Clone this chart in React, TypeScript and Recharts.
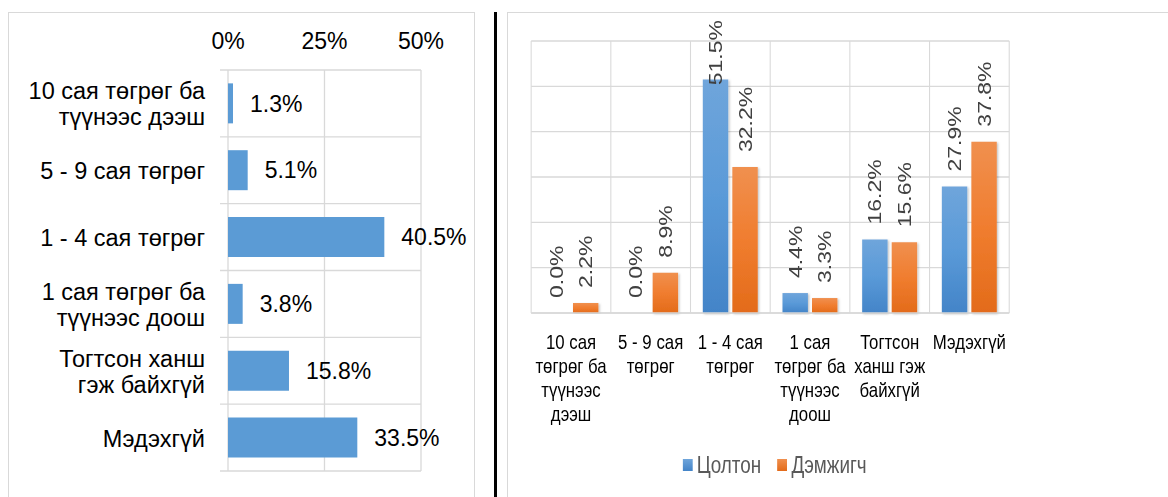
import React from 'react';
import { BarChart, Bar, XAxis, YAxis, CartesianGrid, LabelList, Legend } from 'recharts';

// ---------- data ----------
const leftCategories = [
  '10 сая төгрөг ба\nтүүнээс дээш',
  '5 - 9 сая төгрөг',
  '1 - 4 сая төгрөг',
  '1 сая төгрөг ба\nтүүнээс доош',
  'Тогтсон ханш\nгэж байхгүй',
  'Мэдэхгүй',
];
const leftValues = [1.3, 5.1, 40.5, 3.8, 15.8, 33.5];
const leftTicks = [0, 25, 50];

const rightCategories = [
  '10 сая\nтөгрөг ба\nтүүнээс\nдээш',
  '5 - 9 сая\nтөгрөг',
  '1 - 4 сая\nтөгрөг',
  '1 сая\nтөгрөг ба\nтүүнээс\nдоош',
  'Тогтсон\nханш гэж\nбайхгүй',
  'Мэдэхгүй',
];
const seriesNames = ['Цолтон', 'Дэмжигч'];
const tsoltonValues = [0.0, 0.0, 51.5, 4.4, 16.2, 27.9];
const demjigchValues = [2.2, 8.9, 32.2, 3.3, 15.6, 37.8];
const rightTicks = [0, 10, 20, 30, 40, 50, 60];

const leftData = leftCategories.map((name, i) => ({ name, value: leftValues[i] }));
const rightData = rightCategories.map((name, i) => ({
  name,
  tsolton: tsoltonValues[i],
  demjigch: demjigchValues[i],
}));

// ---------- styles ----------
const FONT = '"Liberation Sans", Arial, sans-serif';
const GRID = '#d9d9d9';
const SQUASH = 0.82;

const fmt = (v: any) => Number(v).toFixed(1) + '%';

const charW = (c: string) => {
  if (c === '.') return 0.278;
  if (c === '%') return 0.889;
  return 0.556;
};
const textLen = (s: string, fs: number) => s.split('').reduce((a, c) => a + charW(c), 0) * fs;

// ---------- left chart ticks ----------
const LeftTopTick = (props: any) => {
  const { x, y, payload } = props;
  return (
    <text x={x} y={y - 21} textAnchor="middle" fontSize={23} fill="#000" fontFamily={FONT}>
      {payload.value + '%'}
    </text>
  );
};

const LeftCatTick = (props: any) => {
  const { x, y, payload } = props;
  const lines = String(payload.value).split('\n');
  const n = lines.length;
  return (
    <text textAnchor="end" fontSize={23.5} fill="#000" fontFamily={FONT}>
      {lines.map((l, i) => (
        <tspan key={i} x={x - 23} y={y + 1 + (i - (n - 1) / 2) * 26 + 8}>
          {l}
        </tspan>
      ))}
    </text>
  );
};

// ---------- right chart ----------
const RightCatTick = (props: any) => {
  const { x, y, payload } = props;
  const lines = String(payload.value).split('\n');
  return (
    <text textAnchor="middle" fontSize={20.5} fill="#000" fontFamily={FONT}>
      {lines.map((l, i) => (
        <tspan key={i} x={x} y={y + 29 + i * 24 + 7}>
          {l}
        </tspan>
      ))}
    </text>
  );
};

const RotLabel = (props: any) => {
  const { x, y, width, value } = props;
  const txt = fmt(value);
  const cx = Number(x) + Number(width) / 2;
  const len = textLen(txt, 23);
  const sy = Math.max(Number(y) - 15, 20 + len);
  return (
    <text
      transform={`translate(${cx},${sy}) rotate(-90)`}
      fontSize={23}
      fill="#404040"
      fontFamily={FONT}
      dy={8}
    >
      {txt}
    </text>
  );
};

const legendColors = [
  'linear-gradient(#6FA5DB, #4384C8)',
  'linear-gradient(#F0904F, #E36B1A)',
];

const RightLegend = () => (
  <div
    style={{
      display: 'flex',
      justifyContent: 'center',
      alignItems: 'center',
      height: 24,
      paddingLeft: 11,
      fontFamily: FONT,
      fontSize: 23,
      color: '#595959',
      lineHeight: '24px',
    }}
  >
    {seriesNames.map((s, i) => (
      <div key={s} style={{ display: 'flex', alignItems: 'center', marginLeft: i ? 20 : 0 }}>
        <div style={{ width: 12, height: 12, background: legendColors[i], marginRight: 5 }} />
        <span>{s}</span>
      </div>
    ))}
  </div>
);

const zeroMin = (v: any) => (Number(v) === 0 ? 0.01 : 0);

export default function App() {
  const nL = leftCategories.length;
  const nR = rightCategories.length;
  return (
    <div
      style={{
        position: 'absolute',
        left: 0,
        top: 0,
        width: 1168,
        height: 497,
        background: '#fff',
        overflow: 'hidden',
        fontFamily: FONT,
      }}
    >
      {/* panel frames */}
      <div
        style={{
          position: 'absolute',
          left: 8,
          top: 12,
          width: 465,
          height: 520,
          border: `1px solid ${GRID}`,
        }}
      />
      <div style={{ position: 'absolute', left: 494, top: 12, width: 3, height: 490, background: '#000' }} />
      <div
        style={{
          position: 'absolute',
          left: 507,
          top: 12,
          width: 700,
          height: 520,
          border: `1px solid ${GRID}`,
        }}
      />

      {/* left chart */}
      <div style={{ position: 'absolute', left: 0, top: 0 }}>
        <BarChart
          layout="vertical"
          width={480}
          height={497}
          data={leftData}
          margin={{ top: 20, right: 59, bottom: 26, left: 0 }}
          barCategoryGap="20%"
        >
          <CartesianGrid
            stroke={GRID}
            strokeWidth={1.3}
            horizontal={(p: any) => (
              <line
                key={p.key ?? `h-${p.index}`}
                x1={p.x1 - 8}
                y1={p.y1}
                x2={p.x2}
                y2={p.y2}
                stroke={GRID}
                strokeWidth={1.3}
              />
            )}
            horizontalCoordinatesGenerator={({ offset }: any) =>
              Array.from({ length: nL + 1 }, (_, i) => offset.top + (i * offset.height) / nL)
            }
          />
          <XAxis
            type="number"
            orientation="top"
            domain={[0, 50]}
            ticks={leftTicks}
            height={50}
            axisLine={false}
            tickLine={false}
            tickSize={0}
            tickMargin={0}
            tick={<LeftTopTick />}
          />
          <YAxis
            type="category"
            dataKey="name"
            width={228}
            axisLine={false}
            tickLine={false}
            tickSize={0}
            tickMargin={0}
            interval={0}
            tick={<LeftCatTick />}
          />
          <Bar dataKey="value" fill="#5B9BD5" isAnimationActive={false}>
            <LabelList
              dataKey="value"
              position="right"
              offset={17}
              formatter={fmt}
              fill="#000"
              fontSize={23}
              fontFamily={FONT}
            />
          </Bar>
        </BarChart>
      </div>

      {/* right chart (horizontally squashed like the reference) */}
      <div
        style={{
          position: 'absolute',
          left: 500,
          top: 0,
          width: 815,
          height: 497,
          transform: `scaleX(${SQUASH})`,
          transformOrigin: '0 0',
        }}
      >
        <BarChart
          width={815}
          height={497}
          data={rightData}
          margin={{ top: 41, right: 194, bottom: 20, left: 38 }}
          barGap={5}
          barCategoryGap={15}
        >
          <defs>
            <linearGradient id="gBlue" x1="0" y1="0" x2="0" y2="1">
              <stop offset="0%" stopColor="#6FA5DB" />
              <stop offset="50%" stopColor="#5A9AD8" />
              <stop offset="100%" stopColor="#4384C8" />
            </linearGradient>
            <linearGradient id="gOrange" x1="0" y1="0" x2="0" y2="1">
              <stop offset="0%" stopColor="#F0904F" />
              <stop offset="50%" stopColor="#F07D2F" />
              <stop offset="100%" stopColor="#E36B1A" />
            </linearGradient>
            <filter id="barShadow" x="-20%" y="-5%" width="150%" height="115%">
              <feDropShadow dx="1.5" dy="1" stdDeviation="1.2" floodColor="#000" floodOpacity="0.25" />
            </filter>
          </defs>
          <CartesianGrid
            stroke={GRID}
            strokeWidth={1.3}
            verticalCoordinatesGenerator={({ offset }: any) =>
              Array.from({ length: nR + 1 }, (_, i) => offset.left + (i * offset.width) / nR)
            }
          />
          <XAxis
            dataKey="name"
            height={140}
            axisLine={{ stroke: GRID, strokeWidth: 1.3 }}
            tickLine={false}
            tickSize={0}
            tickMargin={0}
            interval={0}
            tick={<RightCatTick />}
          />
          <YAxis hide domain={[0, 60]} ticks={rightTicks} />
          <Legend verticalAlign="bottom" content={<RightLegend />} />
          <Bar
            dataKey="tsolton"
            name={seriesNames[0]}
            fill="url(#gBlue)"
            filter="url(#barShadow)"
            minPointSize={zeroMin}
            isAnimationActive={false}
          >
            <LabelList dataKey="tsolton" content={<RotLabel />} />
          </Bar>
          <Bar
            dataKey="demjigch"
            name={seriesNames[1]}
            fill="url(#gOrange)"
            filter="url(#barShadow)"
            minPointSize={zeroMin}
            isAnimationActive={false}
          >
            <LabelList dataKey="demjigch" content={<RotLabel />} />
          </Bar>
        </BarChart>
      </div>
    </div>
  );
}
